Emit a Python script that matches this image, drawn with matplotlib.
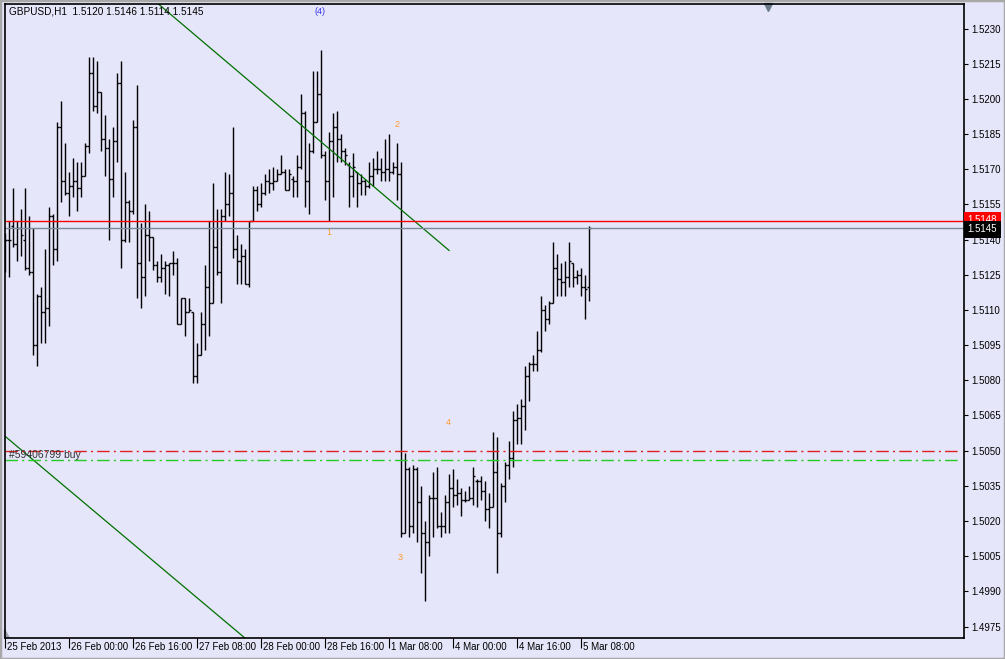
import numpy as np
import matplotlib.pyplot as plt
from matplotlib.patches import Rectangle

plt.rcParams['font.family'] = ['Liberation Sans', 'DejaVu Sans']

# GBPUSD H1 bars, 25 Feb 2013 08:00 .. 5 Mar 2013 10:00
opens = [1.5135, 1.5140, 1.5146, 1.5138, 1.5145, 1.5140, 1.5128, 1.5126, 1.5095, 1.5116,
         1.5109, 1.5111, 1.5150, 1.5136, 1.5188, 1.5165, 1.5160, 1.5163, 1.5165, 1.5162,
         1.5167, 1.5180, 1.5211, 1.5197, 1.5203, 1.5183, 1.5179, 1.5166, 1.5182, 1.5207,
         1.5140, 1.5156, 1.5152, 1.5188, 1.5130, 1.5124, 1.5142, 1.5141, 1.5129, 1.5124,
         1.5128, 1.5129, 1.5130, 1.5130, 1.5104, 1.5115, 1.5109, 1.5109, 1.5082, 1.5091,
         1.5104, 1.5120, 1.5113, 1.5137, 1.5126, 1.5150, 1.5155, 1.5160, 1.5136, 1.5131,
         1.5133, 1.5121, 1.5148, 1.5161, 1.5155, 1.5160, 1.5165, 1.5164, 1.5165, 1.5168,
         1.5169, 1.5161, 1.5166, 1.5165, 1.5171, 1.5194, 1.5165, 1.5178, 1.5190, 1.5202,
         1.5176, 1.5165, 1.5182, 1.5188, 1.5183, 1.5178, 1.5172, 1.5167, 1.5169, 1.5164,
         1.5165, 1.5163, 1.5167, 1.5170, 1.5170, 1.5169, 1.5170, 1.5169, 1.5171, 1.5168,
         1.5015, 1.5042, 1.5018, 1.5042, 1.5028, 1.5015, 1.5011, 1.5030, 1.5030, 1.5018,
         1.5018, 1.5028, 1.5034, 1.5031, 1.5032, 1.5029, 1.5029, 1.5030, 1.5037, 1.5037,
         1.5033, 1.5025, 1.5026, 1.5041, 1.5015, 1.5035, 1.5044, 1.5047, 1.5063, 1.5064,
         1.5069, 1.5082, 1.5087, 1.5087, 1.5093, 1.5110, 1.5106, 1.5113, 1.5128, 1.5123,
         1.5122, 1.5124, 1.5130, 1.5124, 1.5125, 1.5120, 1.5120]
highs = [1.5143, 1.5148, 1.5162, 1.5148, 1.5153, 1.5162, 1.5150, 1.5145, 1.5117, 1.5120,
         1.5136, 1.5154, 1.5151, 1.5190, 1.5199, 1.5181, 1.5169, 1.5175, 1.5173, 1.5173,
         1.5181, 1.5218, 1.5218, 1.5216, 1.5203, 1.5193, 1.5183, 1.5188, 1.5211, 1.5216,
         1.5169, 1.5157, 1.5191, 1.5206, 1.5147, 1.5155, 1.5152, 1.5141, 1.5131, 1.5134,
         1.5131, 1.5130, 1.5135, 1.5132, 1.5115, 1.5115, 1.5115, 1.5109, 1.5096, 1.5109,
         1.5129, 1.5148, 1.5164, 1.5153, 1.5153, 1.5169, 1.5168, 1.5188, 1.5142, 1.5138,
         1.5136, 1.5148, 1.5163, 1.5163, 1.5164, 1.5168, 1.5170, 1.5171, 1.5170, 1.5176,
         1.5170, 1.5170, 1.5167, 1.5176, 1.5202, 1.5195, 1.5181, 1.5212, 1.5212, 1.5221,
         1.5178, 1.5186, 1.5194, 1.5195, 1.5185, 1.5179, 1.5173, 1.5177, 1.5169, 1.5168,
         1.5166, 1.5173, 1.5175, 1.5178, 1.5175, 1.5183, 1.5185, 1.5173, 1.5181, 1.5173,
         1.5049, 1.5043, 1.5044, 1.5043, 1.5035, 1.5020, 1.5031, 1.5041, 1.5043, 1.5024,
         1.5031, 1.5040, 1.5042, 1.5038, 1.5034, 1.5033, 1.5035, 1.5043, 1.5038, 1.5039,
         1.5037, 1.5032, 1.5058, 1.5056, 1.5036, 1.5045, 1.5054, 1.5067, 1.5070, 1.5072,
         1.5086, 1.5088, 1.5091, 1.5101, 1.5116, 1.5112, 1.5114, 1.5139, 1.5134, 1.5130,
         1.5131, 1.5139, 1.5130, 1.5127, 1.5128, 1.5125, 1.5146]
lows = [1.5126, 1.5124, 1.5137, 1.5131, 1.5133, 1.5127, 1.5125, 1.5091, 1.5086, 1.5096,
        1.5096, 1.5103, 1.5129, 1.5131, 1.5156, 1.5159, 1.5150, 1.5158, 1.5152, 1.5158,
        1.5167, 1.5177, 1.5195, 1.5194, 1.5178, 1.5167, 1.5140, 1.5158, 1.5173, 1.5128,
        1.5139, 1.5139, 1.5151, 1.5115, 1.5111, 1.5116, 1.5131, 1.5127, 1.5122, 1.5122,
        1.5117, 1.5116, 1.5125, 1.5104, 1.5104, 1.5099, 1.5109, 1.5079, 1.5079, 1.5091,
        1.5093, 1.5099, 1.5113, 1.5125, 1.5113, 1.5148, 1.5150, 1.5132, 1.5121, 1.5121,
        1.5121, 1.5120, 1.5148, 1.5152, 1.5154, 1.5159, 1.5160, 1.5161, 1.5165, 1.5168,
        1.5161, 1.5161, 1.5158, 1.5158, 1.5170, 1.5154, 1.5151, 1.5177, 1.5190, 1.5175,
        1.5157, 1.5148, 1.5158, 1.5173, 1.5173, 1.5172, 1.5154, 1.5158, 1.5154, 1.5159,
        1.5159, 1.5162, 1.5163, 1.5168, 1.5165, 1.5165, 1.5165, 1.5168, 1.5157, 1.5013,
        1.5015, 1.5013, 1.5015, 1.5011, 1.4998, 1.4986, 1.5005, 1.5013, 1.5017, 1.5013,
        1.5015, 1.5015, 1.5026, 1.5027, 1.5022, 1.5028, 1.5029, 1.5027, 1.5026, 1.5029,
        1.5020, 1.5017, 1.5026, 1.4998, 1.5013, 1.5028, 1.5038, 1.5043, 1.5053, 1.5053,
        1.5059, 1.5071, 1.5084, 1.5084, 1.5092, 1.5101, 1.5104, 1.5113, 1.5116, 1.5116,
        1.5116, 1.5120, 1.5120, 1.5121, 1.5116, 1.5106, 1.5114]
closes = [1.5140, 1.5140, 1.5138, 1.5145, 1.5142, 1.5128, 1.5126, 1.5095, 1.5116, 1.5109,
          1.5111, 1.5150, 1.5136, 1.5188, 1.5165, 1.5160, 1.5163, 1.5165, 1.5162, 1.5167,
          1.5180, 1.5211, 1.5197, 1.5203, 1.5183, 1.5179, 1.5166, 1.5182, 1.5207, 1.5140,
          1.5156, 1.5152, 1.5188, 1.5130, 1.5124, 1.5142, 1.5141, 1.5129, 1.5124, 1.5128,
          1.5129, 1.5130, 1.5130, 1.5104, 1.5115, 1.5109, 1.5110, 1.5082, 1.5091, 1.5104,
          1.5120, 1.5113, 1.5137, 1.5126, 1.5150, 1.5155, 1.5160, 1.5136, 1.5131, 1.5133,
          1.5121, 1.5148, 1.5161, 1.5155, 1.5160, 1.5165, 1.5164, 1.5165, 1.5168, 1.5169,
          1.5161, 1.5168, 1.5165, 1.5171, 1.5194, 1.5165, 1.5178, 1.5190, 1.5202, 1.5176,
          1.5165, 1.5182, 1.5188, 1.5183, 1.5178, 1.5176, 1.5167, 1.5171, 1.5164, 1.5165,
          1.5163, 1.5167, 1.5170, 1.5170, 1.5169, 1.5170, 1.5169, 1.5171, 1.5168, 1.5015,
          1.5042, 1.5018, 1.5042, 1.5028, 1.5015, 1.5011, 1.5030, 1.5030, 1.5018, 1.5018,
          1.5028, 1.5034, 1.5031, 1.5032, 1.5029, 1.5029, 1.5030, 1.5039, 1.5037, 1.5033,
          1.5025, 1.5026, 1.5041, 1.5015, 1.5035, 1.5044, 1.5047, 1.5063, 1.5064, 1.5069,
          1.5082, 1.5087, 1.5087, 1.5093, 1.5110, 1.5106, 1.5113, 1.5128, 1.5123, 1.5122,
          1.5124, 1.5131, 1.5124, 1.5125, 1.5120, 1.5119, 1.5145]

time_labels = ['25 Feb 2013', '26 Feb 00:00', '26 Feb 16:00', '27 Feb 08:00', '28 Feb 00:00',
               '28 Feb 16:00', '1 Mar 08:00', '4 Mar 00:00', '4 Mar 16:00', '5 Mar 08:00']
label_bars = [0, 16, 32, 48, 64, 80, 96, 112, 128, 144]

bid = 1.5145
ask = 1.5148
order_open = 1.5050
order_line2 = 1.5046
order_text = '#59406799 buy'

# trendlines (bar index, price)
trend1_x = [38, 111]
trend1_y = [1.5241, 1.51354]
trend2_x = [-1, 64]
trend2_y = [1.50576, 1.49643]

# elliott wave marks
wave_text = ['1', '2', '3', '4']
wave_x = [81, 98, 98.75, 110.75]
wave_y = [1.5143, 1.5189, 1.50046, 1.50618]

title = 'GBPUSD,H1  1.5120 1.5146 1.5114 1.5145'

bg = '#E6E6FA'
W, H = 1005, 659
fig = plt.figure(figsize=(W / 100, H / 100), dpi=100, facecolor=bg)
ax = fig.add_axes([4.5 / W, (H - 637.5) / H, 959 / W, 633.5 / H])
ax.set_facecolor(bg)

n = len(opens)
idx = np.arange(n)
ax.vlines(idx, lows, highs, color='black', lw=1.0)
ax.hlines(opens, idx - 0.4, idx, color='black', lw=1.0)
ax.hlines(closes, idx, idx + 0.4, color='black', lw=1.0)

ax.set_xlim(-0.125, 239.6)
ax.set_ylim(1.497031, 1.524049)

# trendlines
ax.plot(trend1_x, trend1_y, color='#007000', lw=0.9)
ax.plot(trend2_x, trend2_y, color='#007000', lw=0.9)

# price lines
ax.axhline(ask, color='red', lw=1.0)
ax.axhline(bid, color='#7A8A99', lw=1.0)
ax.plot([0, 238.8], [order_open, order_open], color='#E02020', lw=1.0,
        ls=(0, (9, 3, 1.5, 3)))
ax.plot([0, 238.8], [order_line2, order_line2], color='#22CC22', lw=1.0,
        ls=(0, (9, 3, 1.5, 3)))
ax.text(1.0, (order_open + order_line2) / 2, order_text, fontsize=7.5, color='#303030',
        va='center', ha='left')

for t, x, y in zip(wave_text, wave_x, wave_y):
    ax.text(x, y, t, fontsize=6.5, color='#FF9A2E', ha='center', va='center')
ax.text(78.75, 1.52371, '(4)', fontsize=6.5, color='#3333EE', ha='center', va='center')

# axes styling
for s in ax.spines.values():
    s.set_color('black')
    s.set_linewidth(1.2)

yt = np.round(np.arange(1.4975, 1.5231, 0.0015), 4)
ax.set_yticks(yt)
ax.set_yticklabels(['%.4f' % v for v in yt])
ax.yaxis.tick_right()
ax.tick_params(axis='y', direction='out', length=3, width=0.8, pad=2.5,
               labelsize=7, colors='black')

ax.set_xticks(label_bars)
ax.set_xticklabels([])
ax.tick_params(axis='x', direction='out', length=7, width=0.8)
for b, lab in zip(label_bars, time_labels):
    ax.annotate(lab, xy=(b, 0), xycoords=('data', 'axes fraction'),
                xytext=(1.5, -3.5), textcoords='offset points',
                ha='left', va='top', fontsize=7, color='black', annotation_clip=False)

# bid / ask boxes on the price scale
ax.annotate('%.4f' % ask, xy=(1, ask), xycoords=('axes fraction', 'data'),
            xytext=(3, 0.5), textcoords='offset points', ha='left', va='center',
            fontsize=7, color='white',
            bbox=dict(boxstyle='square,pad=0.35', fc='#FF0000', ec='none'))
ax.annotate('%.4f' % bid, xy=(1, bid), xycoords=('axes fraction', 'data'),
            xytext=(3, -1), textcoords='offset points', ha='left', va='center',
            fontsize=7, color='white',
            bbox=dict(boxstyle='square,pad=0.35', fc='black', ec='none'))

# title
fig.text(9 / W, 1 - 12 / H, title, fontsize=7.2, color='black', ha='left', va='center')

# chart shift marker and scroll marker
ax.plot([190.75], [1.52393], marker='v', ms=6, color='#6A7A8A', clip_on=False)
ax.fill([-0.125, -0.125, 1.0], [1.497031, 1.49738, 1.497031], color='#9AA0AA',
        clip_on=False)

# window frame
fig.patches.append(Rectangle((0, 0), 1, 1, transform=fig.transFigure, fill=False,
                             edgecolor='#A8A8A8', lw=2.5))

fig.savefig('out.png', dpi=100, facecolor=bg)
